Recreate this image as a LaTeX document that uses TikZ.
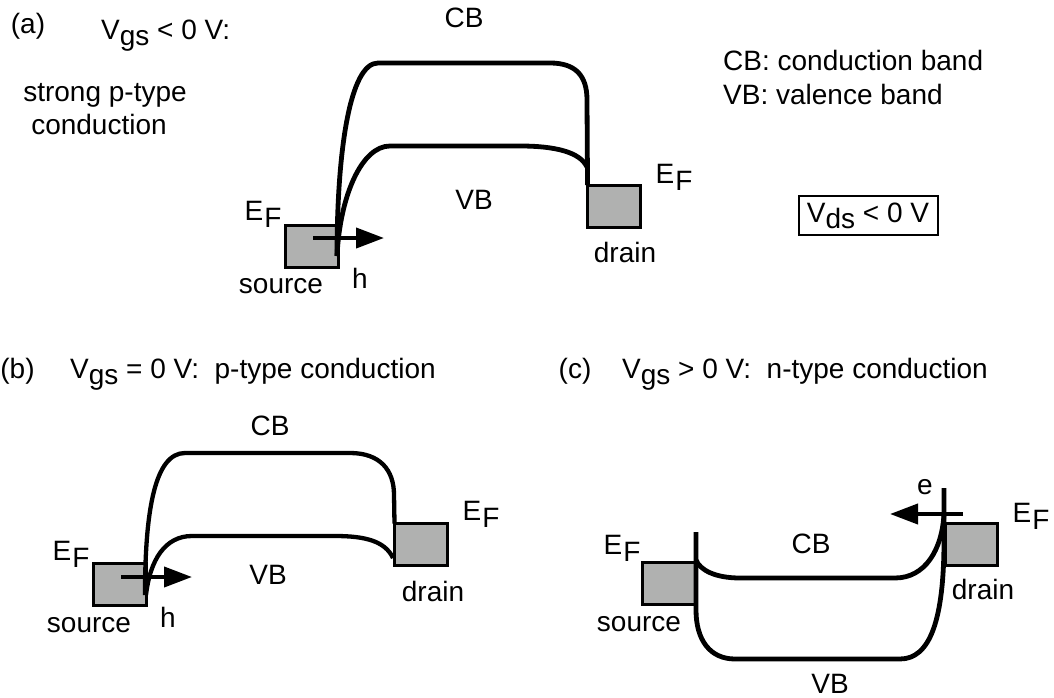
\documentclass[tikz,border=0pt]{standalone}
\usepackage{fontspec}
\setmainfont{Liberation Sans}
\usetikzlibrary{arrows.meta}
\definecolor{contact}{HTML}{B0B1B0}
\newcommand{\lowered}[1]{\raisebox{-6pt}{#1}}
\newcommand{\fermi}{E\kern1pt\raisebox{-7pt}{F}}
\tikzset{
  txt/.style={inner sep=0pt,anchor=base,font=\fontsize{28}{33}\selectfont},
  txtl/.style={txt,anchor=base west},
  contactbox/.style={draw=black,line width=3pt,fill=contact,inner sep=0pt,outer sep=0pt,anchor=north west,minimum width=52.5pt,minimum height=42pt},
  band/.style={line width=4.8pt,draw=black},
  bandthin/.style={line width=4.3pt,draw=black},
  carrier/.style={line width=4pt,-{Triangle[length=28pt,width=20pt]}},
}
\begin{document}
\begin{tikzpicture}[x=1pt,y=-1pt]
\useasboundingbox (0,0) rectangle (1054,698);
\clip (0,0) rectangle (1054,698);
\fill[white] (0,0) rectangle (1054,698);
% panel a
\node[contactbox] (sa) at (285.5,225) {};
\node[contactbox] (da) at (587.5,185) {};
\draw[band] (337,256) .. controls (337,150) and (350,63) .. (378,63) -- (550,63) .. controls (575,63) and (587,75) .. (587,100) -- (da.north west);
\draw[band] (337,256) .. controls (340,195) and (362,146) .. (390,146) -- (520,146) .. controls (555,146) and (580,152) .. (587,167);
\coordinate (aa0) at (313,238); \coordinate (aa1) at (384,238);
\draw[carrier] (aa0) -- (aa1);
\node[txt] (ta) at (28,34) {(a)};
\node[txtl] (tavgs) at (101,40) {V\lowered{gs} < 0 V:};
\node[txt] (tas1) at (105,102) {strong p-type};
\node[txt] (tas2) at (99,135) {conduction};
\node[txt] (tacb) at (464,28) {CB};
\node[txt] (tavb) at (474,209) {VB};
\node[txtl] (lg1) at (723,71) {CB: conduction band};
\node[txtl] (lg2) at (723,105) {VB: valence band};
\node[txt] (tae1) at (263,220) {\fermi};
\node[txt] (tae2) at (674,183) {\fermi};
\node[txt] (tas) at (281,293) {source};
\node[txt] (tad) at (625,262) {drain};
\node[txt] (tah) at (360,288) {h};
\node[draw=black,line width=1.2pt,minimum width=139pt,minimum height=39pt,inner sep=0pt,outer sep=0pt] (vds) at (868.5,215.5) {};
\node[txt] (tvds) at (868,222) {V\lowered{ds} < 0 V};
% panel b
\node[contactbox] (sb) at (93.5,563) {};
\node[contactbox] (db) at (394.5,523.5) {};
\draw[bandthin] (145,595) .. controls (145,510) and (155,453) .. (185,453) -- (350,453) .. controls (380,453) and (394,470) .. (394,495) -- (db.north west);
\draw[bandthin] (146,595) .. controls (150,560) and (165,536) .. (192,536) -- (335,536) .. controls (365,536) and (385,541) .. (393,558);
\coordinate (ab0) at (121,577); \coordinate (ab1) at (192,577);
\draw[carrier] (ab0) -- (ab1);
\node[txt] (tb) at (17.5,378) {(b)};
\node[txtl] (tbvgs) at (70,378) {V\lowered{gs} = 0 V:\ \ p-type conduction};
\node[txt] (tbcb) at (270,435) {CB};
\node[txt] (tbvb) at (268,584) {VB};
\node[txt] (tbe1) at (71,560) {\fermi};
\node[txt] (tbe2) at (481,520) {\fermi};
\node[txt] (tbs) at (89,632) {source};
\node[txt] (tbd) at (433,601) {drain};
\node[txt] (tbh) at (168,627) {h};
% panel c
\node[contactbox] (sc) at (642.5,562.5) {};
\node[contactbox] (dc) at (945,523) {};
\coordinate (cl) at (696,532); \coordinate (cr) at (944,488);
\draw[band] (cl) -- (696,610) .. controls (696,640) and (710,659) .. (735,659) -- (900,659) .. controls (930,659) and (944,620) .. (944,540) -- (cr);
\draw[band] (696,560) .. controls (700,570) and (715,578) .. (740,578) -- (895,578) .. controls (925,578) and (942,550) .. (944,514);
\coordinate (ac0) at (963,514); \coordinate (ac1) at (890,514);
\draw[carrier] (ac0) -- (ac1);
\node[txt] (tc) at (575,378) {(c)};
\node[txtl] (tcvgs) at (622,378) {V\lowered{gs} > 0 V:\ \ n-type conduction};
\node[txt] (tccb) at (811,553) {CB};
\node[txt] (tcvb) at (830,693) {VB};
\node[txt] (tce1) at (622,554) {\fermi};
\node[txt] (tce2) at (1031,522) {\fermi};
\node[txt] (tcs) at (639,631) {source};
\node[txt] (tcd) at (983,599) {drain};
\node[txt] (tce) at (925,494) {e};
\end{tikzpicture}
\end{document}
